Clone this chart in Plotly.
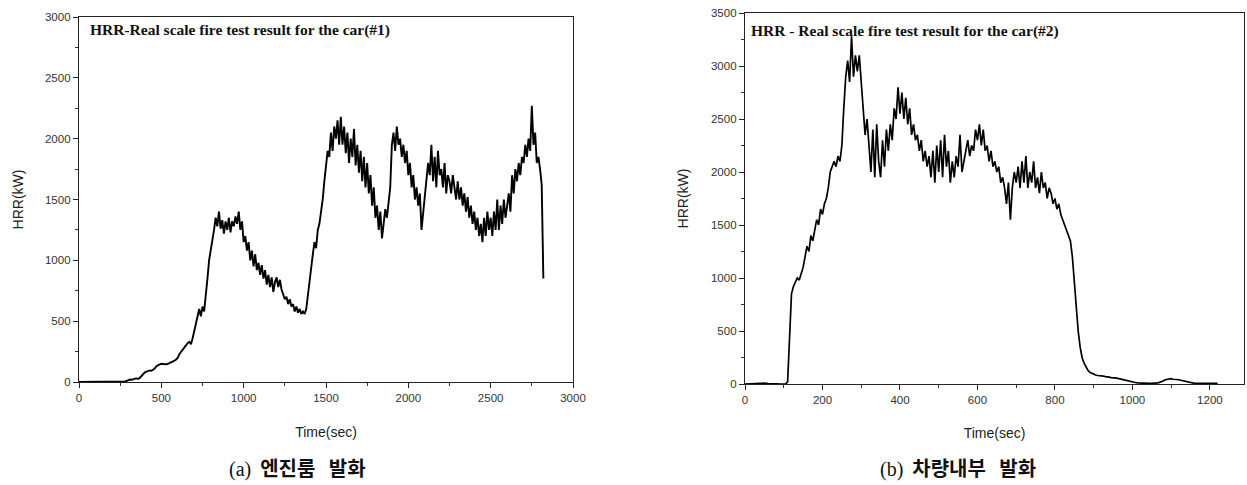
import plotly.graph_objects as go

# ---------------- data: car #1 (engine room ignition), sampled every 10 s ----------------
time_a = list(range(0, 2830, 10))
hrr_a = [
    0, 0, 0, 0, 0, 0, 0, 0, 0, 0,
    0, 0, 0, 0, 0, 0, 0, 0, 0, 0,
    0, 0, 0, 0, 0, 0, 0, 2, 5, 10,
    15, 20, 18, 25, 28, 30, 26, 35, 50, 70,
    80, 85, 90, 95, 92, 100, 110, 130, 140, 145,
    150, 148, 152, 145, 150, 155, 160, 170, 175, 185,
    200, 230, 250, 270, 285, 300, 320, 330, 310, 360,
    420, 500, 560, 600, 540, 620, 580, 700, 850, 1000,
    1080, 1150, 1250, 1350, 1280, 1400, 1260, 1330, 1220, 1320,
    1250, 1350, 1230, 1320, 1280, 1360, 1300, 1400, 1250, 1320,
    1150, 1200, 1080, 1150, 1000, 1080, 950, 1050, 920, 980,
    880, 960, 850, 920, 800, 880, 780, 860, 740, 820,
    860, 780, 840, 760, 720, 680, 700, 640, 680, 620,
    640, 580, 620, 570, 600, 560, 580, 560, 600, 720,
    850, 950, 1050, 1150, 1100, 1250, 1300, 1400, 1500, 1650,
    1800, 1900, 1850, 2050, 1900, 2100, 2000, 2150, 1950, 2180,
    1950, 2100, 1880, 2050, 1800, 2000, 1850, 2080, 1780, 1950,
    1720, 1900, 1650, 1850, 1600, 1800, 1550, 1700, 1450, 1600,
    1350, 1450, 1250, 1400, 1180, 1300, 1420, 1350, 1500, 1600,
    1950, 2050, 1900, 2100, 1950, 2000, 1850, 1950, 1800, 1900,
    1700, 1800, 1600, 1700, 1500, 1600, 1450, 1550, 1250, 1400,
    1500, 1650, 1800, 1700, 1950, 1650, 1850, 1600, 1900, 1700,
    1750, 1600, 1800, 1550, 1700, 1650, 1550, 1700, 1600, 1500,
    1650, 1500, 1600, 1450, 1550, 1400, 1520, 1350, 1450, 1300,
    1400, 1250, 1350, 1200, 1300, 1150, 1350, 1200, 1400, 1250,
    1350, 1200, 1400, 1250, 1500, 1250, 1450, 1300, 1500, 1350,
    1450, 1550, 1400, 1700, 1550, 1750, 1650, 1800, 1700, 1850,
    1800, 1950, 1850, 2000, 1900, 2270, 1950, 2050, 1800, 1850,
    1750, 1620, 850,
]

# ---------------- data: car #2 (interior ignition), sampled every 5 s ----------------
time_b = list(range(0, 1225, 5))
hrr_b = [
    0, 0, 2, 0, 3, 0, 2, 0, 5, 8,
    10, 6, 4, 2, 0, 2, 0, 1, 0, 2,
    0, 2, 20, 450, 850, 920, 960, 1000, 980, 1050,
    1100, 1200, 1300, 1250, 1400, 1350, 1450, 1550, 1500, 1650,
    1600, 1700, 1750, 1850, 2000, 2050, 2100, 2050, 2150, 2100,
    2250, 2600, 2900, 3050, 2850, 3280, 2900, 3100, 2950, 3100,
    2800, 2600, 2350, 2500, 2250, 2000, 2400, 1950, 2450, 2100,
    1950, 2300, 2050, 2400, 2200, 2450, 2300, 2600, 2500, 2800,
    2550, 2750, 2500, 2700, 2450, 2600, 2350, 2450, 2300, 2350,
    2200, 2300, 2100, 2200, 2050, 2150, 1950, 2200, 1900, 2250,
    2000, 2300, 1950, 2350, 2050, 2200, 1900, 2100, 1950, 2150,
    2050, 2350, 2000, 2100, 2200, 2300, 2150, 2250, 2200, 2400,
    2300, 2450, 2250, 2400, 2200, 2250, 2100, 2200, 2050, 2100,
    2000, 2050, 1900, 1950, 1850, 1700, 1900, 1550, 1850, 2000,
    1900, 2050, 1850, 2100, 1900, 2150, 1850, 2000, 1900, 2100,
    1850, 1950, 1800, 2000, 1850, 1900, 1750, 1850, 1800, 1700,
    1750, 1650, 1700, 1600, 1550, 1500, 1450, 1400, 1350, 1200,
    950, 700, 500, 350, 250, 200, 160, 130, 110, 100,
    90, 85, 80, 80, 75, 75, 70, 70, 65, 60,
    60, 55, 55, 50, 45, 40, 35, 30, 25, 20,
    20, 15, 12, 10, 8, 6, 5, 5, 5, 5,
    5, 5, 8, 10, 15, 20, 30, 40, 45, 45,
    50, 45, 45, 40, 40, 35, 30, 25, 20, 15,
    10, 8, 6, 5, 5, 5, 5, 5, 5, 5,
    5, 5, 5, 5, 5,
]

title_a = "HRR-Real scale fire test result for the car(#1)"
title_b = "HRR - Real scale fire test result for the car(#2)"
caption_a = ("(a)", "엔진룸", "발화")
caption_b = ("(b)", "차량내부", "발화")
x_title = "Time(sec)"
y_title = "HRR(kW)"

W, H = 1247, 485

def px_x(p):
    return p / W

def px_y(p):
    return 1 - p / H

fig = go.Figure()
fig.add_trace(go.Scatter(x=time_a, y=hrr_a, mode="lines",
                         line=dict(color="black", width=1.9),
                         xaxis="x", yaxis="y", showlegend=False))
fig.add_trace(go.Scatter(x=time_b, y=hrr_b, mode="lines",
                         line=dict(color="black", width=1.7),
                         xaxis="x2", yaxis="y2", showlegend=False))

tick_font = dict(family="Liberation Sans, Arial, sans-serif", size=11.5, color="#333333")
title_font = dict(family="Liberation Sans, Arial, sans-serif", size=14, color="#222222")

common = dict(showline=True, linecolor="#222222", linewidth=1.3, mirror=True,
              ticks="outside", ticklen=5, tickwidth=1.2, tickcolor="#222222",
              showgrid=False, zeroline=False, tickfont=tick_font,
              automargin=False)
minor = dict(ticks="outside", ticklen=3, tickwidth=1, tickcolor="#333333", showgrid=False)
top_ticks = dict(overlaying=None, side="top", ticks="inside", ticklen=4, tickwidth=1,
                 tickcolor="#333333", showticklabels=False, showline=False,
                 showgrid=False, zeroline=False, automargin=False)

fig.update_layout(
    width=W, height=H,
    margin=dict(l=0, r=0, t=0, b=0),
    paper_bgcolor="white", plot_bgcolor="white",
    xaxis=dict(domain=[px_x(79), px_x(573)], range=[0, 3000], dtick=500, tick0=0,
               anchor="y", minor=dict(dtick=250, **minor),
               title=dict(text=x_title, font=title_font, standoff=24), **common),
    yaxis=dict(domain=[px_y(382), px_y(17)], range=[0, 3000], dtick=500, tick0=0,
               anchor="x", minor=dict(dtick=250, **minor),
               title=dict(text=y_title, font=title_font, standoff=18), **common),
    xaxis2=dict(domain=[px_x(745), px_x(1244)], range=[0, 1288], dtick=200, tick0=0,
                anchor="y2", minor=dict(dtick=100, **minor),
                title=dict(text=x_title, font=title_font, standoff=23), **common),
    yaxis2=dict(domain=[px_y(384), px_y(13)], range=[0, 3500], dtick=500, tick0=0,
                anchor="x2", minor=dict(dtick=250, **minor),
                title=dict(text=y_title, font=title_font, standoff=19), **common),
    xaxis3=dict(top_ticks, overlaying="x", anchor="y", range=[0, 3000], dtick=250, tick0=0,
                domain=[px_x(79), px_x(573)]),
    xaxis4=dict(top_ticks, overlaying="x2", anchor="y2", range=[0, 1288], dtick=100, tick0=0,
                domain=[px_x(745), px_x(1244)]),
)

serif_bold = dict(family="Liberation Serif, Times New Roman, serif", size=15.5, color="#111111")
fig.add_annotation(text="<b>" + title_a + "</b>", xref="paper", yref="paper",
                   x=px_x(88), y=px_y(30), xanchor="left", yanchor="middle",
                   showarrow=False, font=serif_bold)
fig.add_annotation(text="<b>" + title_b + "</b>", xref="paper", yref="paper",
                   x=px_x(749), y=px_y(31), xanchor="left", yanchor="middle",
                   showarrow=False, font=serif_bold)

def caption_html(parts):
    lab, w1, w2 = parts
    return ("<span style='font-family:Liberation Serif, serif'>" + lab + "</span>"
            "&nbsp;&nbsp;<b>" + w1 + "</b>&nbsp;&nbsp;&nbsp;<b>" + w2 + "</b>")

cap_font = dict(family="Noto Sans CJK KR, Liberation Serif, serif", size=20, color="#111111")
fig.add_annotation(text=caption_html(caption_a), xref="paper", yref="paper",
                   x=px_x(297), y=px_y(467), xanchor="center", yanchor="middle",
                   showarrow=False, font=cap_font)
fig.add_annotation(text=caption_html(caption_b), xref="paper", yref="paper",
                   x=px_x(958), y=px_y(467), xanchor="center", yanchor="middle",
                   showarrow=False, font=cap_font)

fig.write_html("out.html")
